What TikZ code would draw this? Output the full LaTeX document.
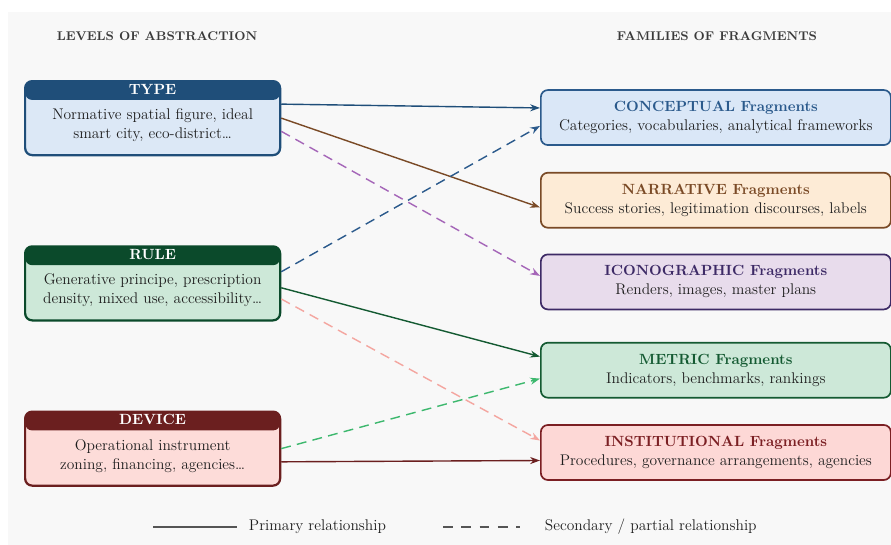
\documentclass[tikz,border=0pt]{standalone}
\usepackage{xcolor}
\usepackage{tikz}
\usetikzlibrary{positioning, arrows.meta}

\definecolor{typedark}{HTML}{1F4E79}
\definecolor{typelight}{HTML}{DCE8F6}
\definecolor{ruledark}{HTML}{0B4A2B}
\definecolor{rulelight}{HTML}{CDE8D8}
\definecolor{devdark}{HTML}{6B1F1F}
\definecolor{devlight}{HTML}{FDDCD9}
\definecolor{concdark}{HTML}{2B5A8C}
\definecolor{conclight}{HTML}{DAE7F7}
\definecolor{narrdark}{HTML}{7A4A26}
\definecolor{narrlight}{HTML}{FDEBD6}
\definecolor{icondark}{HTML}{3D2A66}
\definecolor{iconlight}{HTML}{E8DCEC}
\definecolor{metrdark}{HTML}{145A32}
\definecolor{metrlight}{HTML}{CDE8D8}
\definecolor{instdark}{HTML}{7B1F23}
\definecolor{instlight}{HTML}{FDD8D6}
\definecolor{iconarrow}{HTML}{A566B8}
\definecolor{instarrow}{HTML}{F4A6A0}
\definecolor{metrarrow}{HTML}{3DB86E}
\definecolor{bggray}{HTML}{F8F8F8}
\definecolor{legendgray}{HTML}{555555}
\definecolor{headgray}{HTML}{3A3A3A}
\definecolor{bodytext}{HTML}{1E1E1E}

% extra depth under the last line, lifts the text in the level boxes
\newcommand{\liftpad}{\rule[-9.5pt]{0pt}{9.5pt}}

\begin{document}
\begin{tikzpicture}[
        % Define common styles for the boxes and text
        font=\fontsize{11}{13.5}\selectfont,
        levelbox/.style 2 args={draw=#1, fill=#2, line width=1.6pt, rounded corners=5pt,
            minimum width=6.375cm, minimum height=1.85cm, inner ysep=0.5pt, align=center, text=bodytext,
            path picture={\fill[#1] (path picture bounding box.north west) rectangle ([yshift=-0.47cm]path picture bounding box.north east);}},
        familybox/.style 2 args={draw=#1, fill=#2, line width=1.2pt, rounded corners=5pt,
            minimum width=8.75cm, minimum height=1.375cm, align=center, text=bodytext},
        heading/.style={font=\fontsize{9}{11}\selectfont\bfseries, text=headgray},
        primary/.style={-{Stealth[length=7pt, width=5pt]}, line width=1pt},
        secondary/.style={-{Stealth[length=7pt, width=5pt]}, line width=1pt, dash pattern=on 7pt off 4.5pt},
        legendtext/.style={anchor=west, text=bodytext}
    ]

        % Canvas
        \useasboundingbox (0,0) rectangle (22.275,-13.625);
        \fill[bggray] (0.2,-0.3) rectangle (22.275,-13.625);

        % Column headings
        \node[heading] (levels) at (3.925,-0.9) {LEVELS OF ABSTRACTION};
        \node[heading] (families) at (17.925,-0.9) {FAMILIES OF FRAGMENTS};

        % Levels of abstraction
        \node[levelbox={typedark}{typelight}, anchor=north west] (type) at (0.6,-2.0)
            {\textcolor{white}{\fontsize{10.5}{13.5}\selectfont\bfseries TYPE}\\[4.5pt] Normative spatial figure, ideal\\ smart city, eco-district\ldots\liftpad};

        \node[levelbox={ruledark}{rulelight}, below=2.225cm of type] (rule)
            {\textcolor{white}{\fontsize{10.5}{13.5}\selectfont\bfseries RULE}\\[4.5pt] Generative principe, prescription\\ density, mixed use, accessibility\ldots\liftpad};

        \node[levelbox={devdark}{devlight}, below=2.225cm of rule] (device)
            {\textcolor{white}{\fontsize{10.5}{13.5}\selectfont\bfseries DEVICE}\\[4.5pt] Operational instrument\\ zoning, financing, agencies\ldots\liftpad};

        % Families of fragments
        \node[familybox={concdark}{conclight}, anchor=north west] (conc) at (13.5,-2.23)
            {\textcolor{concdark}{\fontsize{10.5}{13.5}\selectfont\bfseries CONCEPTUAL Fragments}\\ Categories, vocabularies, analytical frameworks};

        \node[familybox={narrdark}{narrlight}, below=0.65cm of conc] (narr)
            {\textcolor{narrdark}{\fontsize{10.5}{13.5}\selectfont\bfseries NARRATIVE Fragments}\\ Success stories, legitimation discourses, labels};

        \node[familybox={icondark}{iconlight}, below=0.625cm of narr] (icon)
            {\textcolor{icondark}{\fontsize{10.5}{13.5}\selectfont\bfseries ICONOGRAPHIC Fragments}\\ Renders, images, master plans};

        \node[familybox={metrdark}{metrlight}, below=0.79cm of icon] (metr)
            {\textcolor{metrdark}{\fontsize{10.5}{13.5}\selectfont\bfseries METRIC Fragments}\\ Indicators, benchmarks, rankings};

        \node[familybox={instdark}{instlight}, below=0.64cm of metr] (inst)
            {\textcolor{instdark}{\fontsize{10.5}{13.5}\selectfont\bfseries INSTITUTIONAL Fragments}\\ Procedures, governance arrangements, agencies};

        % Relationships
        \draw[primary, typedark] ([yshift=0.35cm]type.east) -- ([yshift=0.24cm]conc.west);
        \draw[primary, narrdark] (type.east) -- ([yshift=-0.18cm]narr.west);
        \draw[secondary, iconarrow] ([yshift=-0.33cm]type.east) -- ([yshift=0.15cm]icon.west);

        \draw[secondary, concdark] ([yshift=0.29cm]rule.east) -- ([yshift=-0.21cm]conc.west);
        \draw[primary, metrdark] ([yshift=-0.11cm]rule.east) -- ([yshift=0.34cm]metr.west);
        \draw[secondary, instarrow] ([yshift=-0.39cm]rule.east) -- ([yshift=0.3cm]inst.west);

        \draw[secondary, metrarrow] (device.east) -- ([yshift=-0.21cm]metr.west);
        \draw[primary, devdark] ([yshift=-0.33cm]device.east) -- ([yshift=-0.2cm]inst.west);

        % Legend
        \coordinate (solidA) at (3.825,-13.175);
        \coordinate (solidB) at (5.925,-13.175);
        \coordinate (dashA) at (11.075,-13.175);
        \coordinate (dashB) at (13.0,-13.175);
        \draw[legendgray, line width=1pt] (solidA) -- (solidB);
        \draw[legendgray, line width=1pt, dash pattern=on 7pt off 6pt] (dashA) -- (dashB);
        \node[legendtext] (primlabel) at (6.1,-13.175) {Primary relationship};
        \node[legendtext] (seclabel) at (13.5,-13.175) {Secondary / partial relationship};

    \end{tikzpicture}
\end{document}
